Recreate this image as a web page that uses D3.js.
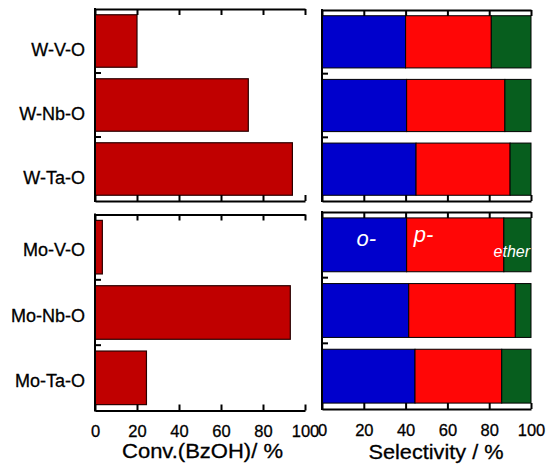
<!DOCTYPE html>
<html>
<head>
<meta charset="utf-8">
<script src="https://cdn.jsdelivr.net/npm/d3@7"></script>
<style>
  body { margin: 0; background: #fff; }
  svg { display: block; font-family: "Liberation Sans", Arial, sans-serif; }
  .spine { stroke: #000; stroke-width: 2; fill: none; }
  .axis path, .axis line { stroke: #000; stroke-width: 2; }
  .axis text { font-size: 16.5px; fill: #000; stroke: #000; stroke-width: 0.3px; font-family: "Liberation Sans", Arial, sans-serif; }
  .dark { fill: #000; stroke: #000; stroke-width: 0.3px; }
</style>
</head>
<body>
<svg id="chart" width="548" height="465"></svg>
<script>
const wCats = ["W-V-O", "W-Nb-O", "W-Ta-O"];
const moCats = ["Mo-V-O", "Mo-Nb-O", "Mo-Ta-O"];
const wConv = [20, 73, 94];
const moConv = [3.5, 93, 24.5];
const wOrtho = [40, 40.5, 45];
const wPara = [41, 47, 45];
const wEther = [19, 12.5, 10];
const moOrtho = [40.5, 41.5, 44.5];
const moPara = [46.5, 51, 41.5];
const moEther = [13, 7.5, 14];
const xTicks = [0, 20, 40, 60, 80, 100];
const segKeys = ["o", "p", "ether"];
const segColors = { o: "#0000cc", p: "#ff0606", ether: "#075e1e" };

const svg = d3.select("#chart");

function frame(g, x, y, showLabels) {
  // top axis, ticks pointing in
  g.append("g").attr("class", "axis")
    .attr("transform", `translate(0,${y.range()[0]})`)
    .call(d3.axisTop(x).tickValues(xTicks).tickSizeInner(-6).tickSizeOuter(0).tickFormat(""));
  // bottom axis
  g.append("g").attr("class", "axis")
    .attr("transform", `translate(0,${y.range()[1]})`)
    .call(d3.axisBottom(x).tickValues(xTicks).tickSizeInner(-6).tickSizeOuter(0)
      .tickPadding(15).tickFormat(showLabels ? d3.format("d") : ""));
  // left spine
  g.append("line").attr("class", "spine")
    .attr("x1", x.range()[0]).attr("x2", x.range()[0])
    .attr("y1", y.range()[0] - 1).attr("y2", y.range()[1] + 1);
  // category separators
  const half = y.step() * y.paddingInner() / 2;
  g.selectAll(".sep").data(y.domain().slice(0, -1)).join("line")
    .attr("class", "spine")
    .attr("x1", x.range()[0]).attr("x2", x.range()[0] + 6)
    .attr("y1", d => y(d) + y.bandwidth() + half)
    .attr("y2", d => y(d) + y.bandwidth() + half);
}

function convPanel(cats, vals, top, bottom, labelDy, showLabels) {
  const x = d3.scaleLinear([0, 100], [95, 305]);
  const y = d3.scaleBand(cats, [top, bottom]).paddingInner(0.18).paddingOuter(0.09);
  const g = svg.append("g");
  g.selectAll("rect").data(cats).join("rect")
    .attr("x", x(0))
    .attr("y", d => y(d))
    .attr("width", (d, i) => x(vals[i]) - x(0))
    .attr("height", y.bandwidth())
    .attr("fill", "#c00000")
    .attr("stroke", "#2a0000")
    .attr("stroke-width", 1.2);
  g.selectAll(".cat").data(cats).join("text")
    .attr("class", "dark")
    .attr("x", 85)
    .attr("y", d => y(d) + y.bandwidth() / 2 + labelDy)
    .attr("dy", "0.35em")
    .attr("text-anchor", "end")
    .attr("font-size", 18)
    .text(d => d);
  frame(g, x, y, showLabels);
  return { x, y, g };
}

function selPanel(cats, ortho, para, ether, top, bottom, showLabels) {
  const x = d3.scaleLinear([0, 100], [322, 531]);
  const y = d3.scaleBand(cats, [top, bottom]).paddingInner(0.18).paddingOuter(0.09);
  const rows = cats.map((c, i) => ({ cat: c, o: ortho[i], p: para[i], ether: ether[i] }));
  const series = d3.stack().keys(segKeys)(rows);
  const g = svg.append("g");
  g.selectAll(".series").data(series).join("g")
    .attr("fill", s => segColors[s.key])
    .selectAll("rect").data(s => s).join("rect")
    .attr("x", d => x(d[0]))
    .attr("y", d => y(d.data.cat))
    .attr("width", d => x(d[1]) - x(d[0]))
    .attr("height", y.bandwidth())
    .attr("stroke", "#000")
    .attr("stroke-width", 1);
  frame(g, x, y, showLabels);
  return { x, y, g, series };
}

convPanel(wCats, wConv, 9, 201, 9, false);
convPanel(moCats, moConv, 214.5, 410.5, 3, true);
selPanel(wCats, wOrtho, wPara, wEther, 10, 201, false);
const mo = selPanel(moCats, moOrtho, moPara, moEther, 212, 409, true);

// segment labels in the first Mo bar
const first = moCats[0];
const yb = mo.y(first);
const segs = mo.series.map(s => s[0]);
const lbl = mo.g.append("g").attr("fill", "#fff").attr("font-style", "italic");
lbl.append("text")
  .attr("x", (mo.x(segs[0][0]) + mo.x(segs[0][1])) / 2 + 2)
  .attr("y", yb + 28)
  .attr("text-anchor", "middle").attr("font-size", 22).text("o-");
lbl.append("text")
  .attr("x", mo.x(segs[1][0]) + 7)
  .attr("y", yb + 24)
  .attr("font-size", 22).text("p-");
lbl.append("text")
  .attr("x", mo.x(100) - 1)
  .attr("y", yb + mo.y.bandwidth() - 15)
  .attr("text-anchor", "end").attr("font-size", 16).text("ether");

// axis titles
svg.append("text").attr("class", "dark").attr("x", 202.5).attr("y", 458).attr("text-anchor", "middle")
  .attr("font-size", 21).attr("textLength", 161).attr("lengthAdjust", "spacingAndGlyphs")
  .text("Conv.(BzOH)/ %");
svg.append("text").attr("class", "dark").attr("x", 436).attr("y", 459).attr("text-anchor", "middle")
  .attr("font-size", 21).attr("textLength", 135).attr("lengthAdjust", "spacingAndGlyphs")
  .text("Selectivity / %");
</script>
</body>
</html>
